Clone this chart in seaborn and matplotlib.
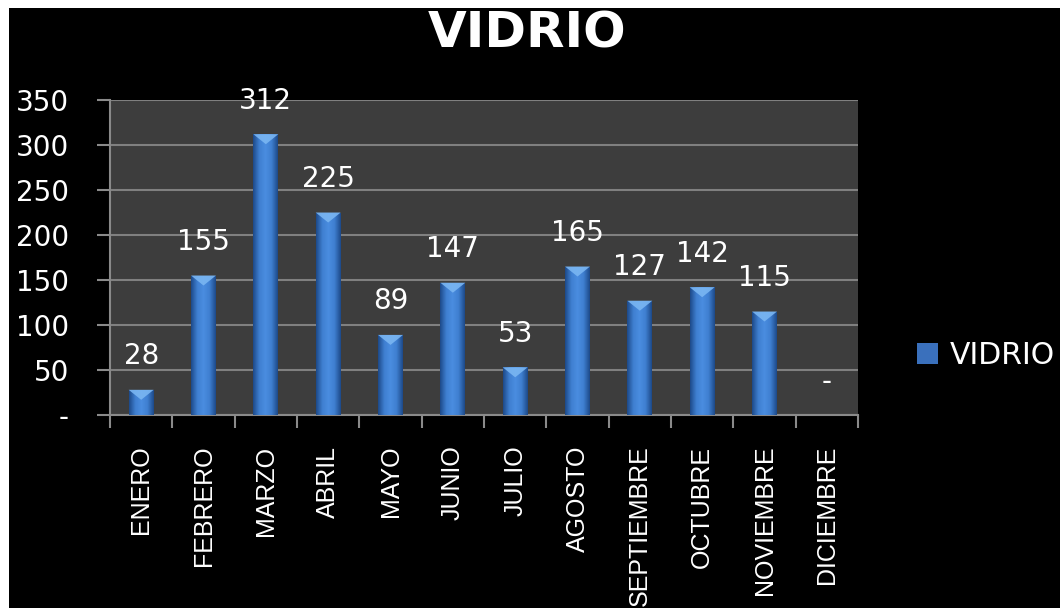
import numpy as np
import matplotlib
matplotlib.use("Agg")
import matplotlib.pyplot as plt
import seaborn as sns
from matplotlib.patches import Rectangle, Polygon
from matplotlib.colors import LinearSegmentedColormap

# datos
meses = ["ENERO", "FEBRERO", "MARZO", "ABRIL", "MAYO", "JUNIO", "JULIO",
         "AGOSTO", "SEPTIEMBRE", "OCTUBRE", "NOVIEMBRE", "DICIEMBRE"]
vidrio = [28, 155, 312, 225, 89, 147, 53, 165, 127, 142, 115, 0]
y_ticks = [0, 50, 100, 150, 200, 250, 300, 350]
y_labels = ["-", "50", "100", "150", "200", "250", "300", "350"]

sns.set_style("dark")
plt.rcParams["font.family"] = ["DejaVu Sans"]

fig = plt.figure(figsize=(10.64, 6.08), dpi=100, facecolor="white")
# fondo negro con borde blanco arriba / izquierda / derecha
fig.patches.append(Rectangle((9 / 1064, 0), (1060 - 9) / 1064, 600 / 608,
                             transform=fig.transFigure, facecolor="black",
                             edgecolor="none", zorder=-10))

ax = fig.add_axes([110 / 1064, 1 - 415 / 608, (858 - 110) / 1064, (415 - 100) / 608])
ax.set_facecolor("#3d3d3d")

sns.barplot(x=meses, y=vidrio, color="#3b74c2", width=0.4, ax=ax,
            label="VIDRIO", zorder=3, edgecolor="none")
if ax.get_legend() is not None:
    ax.get_legend().remove()

ax.set_xlim(-0.5, 11.5)
ax.set_ylim(0, 350)
ax.set_yticks(y_ticks)
ax.set_yticklabels(y_labels)
ax.grid(axis="y", color="#808080", linewidth=1.5, zorder=0)
ax.grid(axis="x", visible=False)
ax.set_axisbelow(True)

for s in ["top", "right"]:
    ax.spines[s].set_visible(False)
for s in ["left", "bottom"]:
    ax.spines[s].set_visible(True)
    ax.spines[s].set_color("#8a8a8a")
    ax.spines[s].set_linewidth(1.5)

ax.tick_params(axis="y", colors="white", labelsize=20, length=9.5, width=1.5,
               color="#8a8a8a", pad=20, left=True)
ax.set_xticks(np.arange(-0.5, 12, 1), minor=True)
ax.tick_params(axis="x", which="minor", length=9.5, width=1.5, color="#8a8a8a",
               bottom=True)
ax.tick_params(axis="x", which="major", length=0, pad=22, colors="white")
for lab in ax.get_xticklabels():
    lab.set_rotation(90)
    lab.set_fontsize(18)
    lab.set_family(["Liberation Sans"])
    lab.set_va("top")
    lab.set_ha("center")
ax.set_xlabel("")
ax.set_ylabel("")

# degradado en las barras
cmap = LinearSegmentedColormap.from_list("bar", ["#1d4a8a", "#3f7fd0", "#4a8de0", "#3f7fd0", "#1d4a8a"])
grad = np.linspace(0, 1, 64).reshape(1, -1)
px_per_unit = (415 - 100) / 350
bars = [p for p in ax.patches]
for p in bars:
    x0, w, h = p.get_x(), p.get_width(), p.get_height()
    if h <= 0:
        continue
    im = ax.imshow(grad, cmap=cmap, aspect="auto", extent=(x0, x0 + w, 0, h),
                   zorder=4)
    im.set_clip_path(p)
    tri_h = min(10 / px_per_unit, h)
    ax.add_patch(Polygon([(x0, h), (x0 + w, h), (x0 + w / 2, h - tri_h)],
                         closed=True, facecolor="#7ab6f2", edgecolor="none",
                         alpha=0.9, zorder=5))

ax.set_xlim(-0.5, 11.5)
ax.set_ylim(0, 350)

# etiquetas de valor
etiquetas = [str(v) if v > 0 else "-" for v in vidrio]
ax.bar_label(ax.containers[0], labels=etiquetas, padding=14, color="white",
             fontsize=20, zorder=6)

fig.text(527 / 1064, 1 - 47 / 608, "VIDRIO", color="white", fontsize=36,
         fontweight="bold", ha="center", va="baseline")

leg = fig.legend(handles=[Rectangle((0, 0), 1, 1, facecolor="#3a70bc",
                                    edgecolor="none")],
                 labels=["VIDRIO"], loc="center left",
                 bbox_to_anchor=(917 / 1064, 1 - 355 / 608),
                 frameon=False, fontsize=21.5, borderpad=0, borderaxespad=0,
                 handlelength=0.7, handleheight=0.7, handletextpad=0.4)
for t in leg.get_texts():
    t.set_color("white")

fig.savefig("out.png", dpi=100, facecolor=fig.get_facecolor())
